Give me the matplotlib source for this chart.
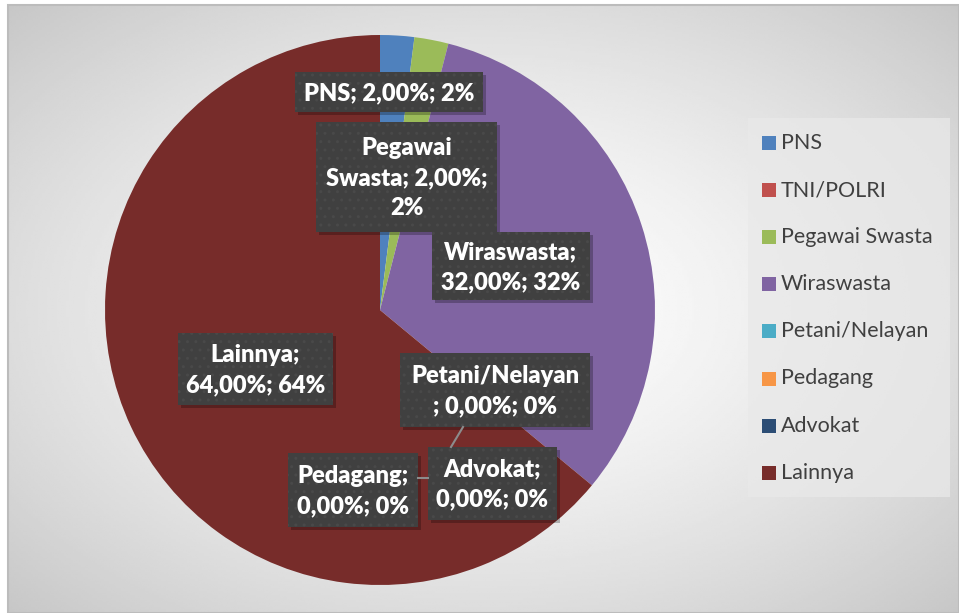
import numpy as np
import matplotlib as mpl
import matplotlib.pyplot as plt
from matplotlib.patches import Rectangle

mpl.use("Agg")

plt.rcParams["font.family"] = ["Lato", "DejaVu Sans"]

W, H = 959, 613

categories = ["PNS", "TNI/POLRI", "Pegawai Swasta", "Wiraswasta",
              "Petani/Nelayan", "Pedagang", "Advokat", "Lainnya"]
shares = [2.0, 0.0, 2.0, 32.0, 0.0, 0.0, 0.0, 64.0]
slice_colors = ["#4F81BD", "#C0504D", "#9BBB59", "#8064A2",
                "#4BACC6", "#F79646", "#2C4D75", "#772C2A"]

# data label boxes in pixels (x0, y0, x1, y1), TNI/POLRI label is not shown
label_boxes = {
    "PNS": (295, 72, 483, 112),
    "Pegawai Swasta": (316, 122, 497, 232),
    "Wiraswasta": (432, 232, 590, 300),
    "Lainnya": (178, 333, 333, 405),
    "Petani/Nelayan": (400, 353, 590, 427),
    "Pedagang": (288, 453, 418, 527),
    "Advokat": (428, 447, 557, 520),
}
label_breaks = {
    "Pegawai Swasta": [("Pegawai ", "Pegawai\n"), ("2,00%; ", "2,00%;\n")],
    "Wiraswasta": [("; 3", ";\n3")],
    "Lainnya": [("; 6", ";\n6")],
    "Petani/Nelayan": [("Nelayan;", "Nelayan\n;")],
    "Pedagang": [("; 0,", ";\n0,")],
    "Advokat": [("; 0,", ";\n0,")],
}


def label_for(name, value):
    s = f"{name}; {value:.2f}%; {value:.0f}%".replace(".", ",")
    for a, b in label_breaks.get(name, []):
        s = s.replace(a, b, 1)
    return s


fig = plt.figure(figsize=(W / 100, H / 100), dpi=100)
fig.patch.set_facecolor("white")

# background with radial gradient
bg = fig.add_axes([0, 0, 1, 1], zorder=0)
bg.set_xlim(0, W)
bg.set_ylim(H, 0)
bg.axis("off")
x0c, y0c, x1c, y1c = 8, 5, W, H
xx, yy = np.meshgrid(np.linspace(x0c, x1c, 400), np.linspace(y0c, y1c, 260))
cx, cy = (x0c + x1c) / 2, (y0c + y1c) / 2
d = np.sqrt(((xx - cx) / ((x1c - x0c) / 2)) ** 2 + ((yy - cy) / ((y1c - y0c) / 2)) ** 2) / np.sqrt(2)
val = 1 - 0.22 * d ** 1.4
bg.imshow(val, cmap="gray", vmin=0, vmax=1, extent=(x0c, x1c, y1c, y0c),
          aspect="auto", interpolation="bilinear")
bg.add_patch(Rectangle((x0c, y0c), x1c - x0c, y1c - y0c, fill=False,
                       edgecolor="#bcbcbc", lw=1.5))

# pie
cxp, cyp, r = 380, 310, 275
pie_ax = fig.add_axes([(cxp - r) / W, (H - cyp - r) / H, 2 * r / W, 2 * r / H], zorder=1)
wedges, _ = pie_ax.pie(shares, colors=slice_colors, startangle=90,
                       counterclock=False, radius=1)
pie_ax.set_xlim(-1, 1)
pie_ax.set_ylim(-1, 1)
pie_ax.set_aspect("auto")
pie_ax.axis("off")

# overlay: leader lines, data labels, legend
ov = fig.add_axes([0, 0, 1, 1], zorder=2)
ov.set_xlim(0, W)
ov.set_ylim(H, 0)
ov.axis("off")
ov.patch.set_alpha(0)

ov.plot([463, 451], [427, 447], color="#8c8c8c", lw=1.5)
ov.plot([418, 428], [478, 478], color="#8c8c8c", lw=1.5)

for name, value in zip(categories, shares):
    if name not in label_boxes:
        continue
    bx0, by0, bx1, by1 = label_boxes[name]
    ov.add_patch(Rectangle((bx0 + 3, by0 + 3), bx1 - bx0, by1 - by0,
                           facecolor="black", alpha=0.25, lw=0))
    ov.add_patch(Rectangle((bx0, by0), bx1 - bx0, by1 - by0,
                           facecolor="#404040", edgecolor="#494949",
                           lw=0, hatch=".."))
    ov.text((bx0 + bx1) / 2, (by0 + by1) / 2 + 1, label_for(name, value),
            ha="center", va="center", color="white", fontsize=17,
            fontweight="heavy", linespacing=1.45)

# legend
ov.add_patch(Rectangle((748, 118), 202, 379, facecolor="#e9e9e9",
                       alpha=0.75, lw=0))
for i, (name, col) in enumerate(zip(categories, slice_colors)):
    yrow = 143 + i * 47.1
    ov.add_patch(Rectangle((762, yrow - 7), 14, 14, facecolor=col, lw=0))
    ov.text(781, yrow, name, ha="left", va="center", color="#404040",
            fontsize=15.5)

fig.savefig("out.png", dpi=100)
